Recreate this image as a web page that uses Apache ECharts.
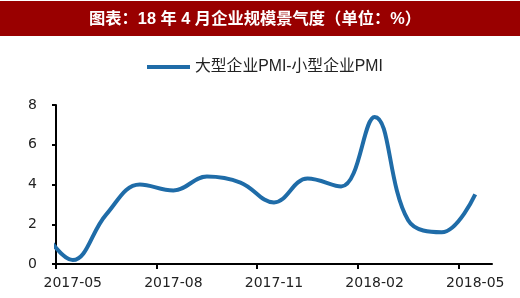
<!DOCTYPE html>
<html>
<head>
<meta charset="utf-8">
<script src="https://cdn.jsdelivr.net/npm/echarts@6/dist/echarts.min.js"></script>
<style>
html,body{margin:0;padding:0;background:#fff;}
#chart{width:520px;height:298px;}
</style>
</head>
<body>
<div id="chart"></div>
<script>
// Data (monthly, 大型企业PMI - 小型企业PMI, %)
const months = ['2017-04','2017-05','2017-06','2017-07','2017-08','2017-09','2017-10','2017-11','2017-12','2018-01','2018-02','2018-03','2018-04','2018-05'];
const diffValues = [2.0, 0.2, 2.5, 4.0, 3.7, 4.4, 4.1, 3.1, 4.3, 3.9, 7.4, 2.2, 1.6, 3.5];
const xTickLabels = ['2017-05','2017-08','2017-11','2018-02','2018-05'];
const yTicks = [0, 2, 4, 6, 8];
const seriesName = '大型企业PMI-小型企业PMI';
const titleText = '图表：18 年 4 月企业规模景气度（单位：%）';

// index 0 on the x scale = first shown month (2017-05)
const firstShown = months.indexOf(xTickLabels[0]);
const lastShown = months.length - 1;
const seriesData = months.map((m, i) => [i - firstShown, diffValues[i]]);
const labelPos = xTickLabels.map(l => months.indexOf(l) - firstShown);
const tickPos = labelPos.map(p => p - 0.5);

const latin = "'Liberation Sans', 'Noto Sans CJK SC', sans-serif";
const axisFont = "'DejaVu Sans', 'Noto Sans CJK SC', sans-serif";

const chart = echarts.init(document.getElementById('chart'), null, {renderer: 'canvas'});
chart.setOption({
  animation: false,
  backgroundColor: '#fff',
  graphic: [{
    type: 'rect', z: 0,
    shape: {x: 0, y: 1, width: 520, height: 35},
    style: {fill: '#990000'}
  }],
  title: {
    text: titleText,
    left: 89, top: 11, padding: 0, z: 10,
    textStyle: {color: '#fff', fontSize: 16.3, fontWeight: 'bold', fontFamily: latin}
  },
  legend: {
    left: 147, top: 59, padding: 0,
    itemWidth: 43, itemHeight: 4, itemGap: 5,
    data: [{name: seriesName, icon: 'rect'}],
    textStyle: {fontSize: 15.8, color: '#222', fontFamily: latin}
  },
  grid: {left: 56, right: 28, top: 105, bottom: 34, containLabel: false},
  xAxis: {
    type: 'value',
    min: -0.5,
    max: lastShown - firstShown + 0.5,
    splitLine: {show: false},
    axisLine: {show: true, onZero: false, lineStyle: {color: '#000', width: 2}},
    axisTick: {show: true, length: 5, lineStyle: {color: '#000', width: 2}, customValues: tickPos},
    axisLabel: {
      customValues: labelPos,
      margin: 12,
      fontSize: 14, color: '#222', fontFamily: axisFont,
      formatter: v => months[Math.round(v) + firstShown]
    }
  },
  yAxis: {
    type: 'value',
    min: yTicks[0], max: yTicks[yTicks.length - 1], interval: yTicks[1] - yTicks[0],
    splitLine: {show: false},
    axisLine: {show: true, onZero: false, lineStyle: {color: '#000', width: 2}},
    axisTick: {show: true, length: 4, lineStyle: {color: '#000', width: 2}},
    axisLabel: {margin: 19, fontSize: 14, color: '#222', fontFamily: axisFont}
  },
  series: [{
    name: seriesName,
    type: 'line',
    data: seriesData,
    smooth: 0.4,
    symbol: 'none',
    clip: true,
    lineStyle: {color: '#1F6CA8', width: 4},
    itemStyle: {color: '#1F6CA8'}
  }]
});
</script>
</body>
</html>
